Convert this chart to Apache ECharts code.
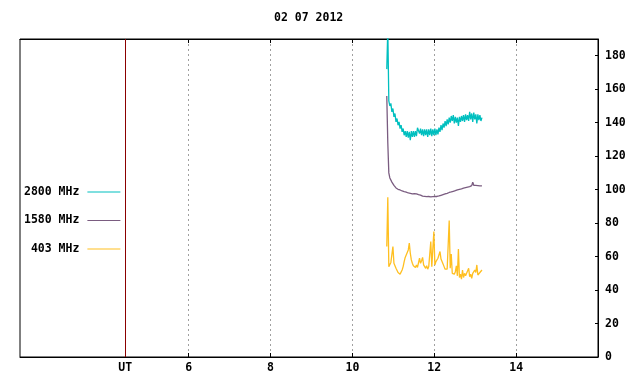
<!DOCTYPE html>
<html>
<head>
<meta charset="utf-8">
<script src="https://cdn.jsdelivr.net/npm/echarts@6/dist/echarts.min.js"></script>
<style>html,body{margin:0;padding:0;background:#fff}#c{width:640px;height:384px}</style>
</head>
<body>
<div id="c"></div>
<script>
const titleText = '02 07 2012';
const seriesNames = ['2800 MHz', '1580 MHz', '403 MHz'];
const xTickValues = [6, 8, 10, 12, 14];
const utPosition = 4.45;
const xLabelValues = [4.45, 6, 8, 10, 12, 14];
const yTickValues = [0, 20, 40, 60, 80, 100, 120, 140, 160, 180];
const startHour = 10.84;
const stepHour = 0.025;

const flux2800 = [172,196,153,150,151.5,146.5,148.5,143.5,145.5,140.5,
  142.5,138.5,140.5,136.5,138.5,134.5,136.5,132.5,135,131.5,
  135,131,134.5,129.5,135,131.5,135,131.5,135,132,
  137,138,133.5,136.5,132.5,136,132,136,132.5,136,
  131.5,136,132.5,136.5,132,136,132.5,136.5,132.5,136,
  133,137,134.5,138.5,135.5,139.5,137,141,138,142,
  139,143,140,144,141,144.5,139.5,143.5,140,143,
  138,143.5,140.5,144,141,144.5,140.5,145,141.5,144.5,
  141,146.5,142,145.5,140.5,146,142,145,139.5,145,
  141.5,144.5,141,143];
const flux1580 = [156,128,110,107,106,104.5,103.5,102.5,101.5,101,
  100.5,100.2,99.9,99.8,99.5,99.2,99,98.8,98.6,98.5,
  98.2,98,97.9,97.8,97.6,97.5,97.5,97.6,97.4,97.5,
  97.2,97,97,96.7,96.4,96.1,96.2,96,96.1,95.8,
  96,95.9,96,95.7,95.9,95.8,95.6,95.9,96,95.9,
  96.1,96.2,96.4,96.6,96.8,97,97.2,97.4,97.5,97.8,
  98.1,98.3,98.5,98.6,98.8,99,99.2,99.4,99.6,99.9,
  100.1,100.2,100.3,100.5,100.7,100.9,101,101.2,101.3,101.5,
  101.6,101.8,102,102.4,104.5,102.6,102.3,102.5,102.2,102.4,
  102.1,102.3,102.1,102.2];
const flux403 = [66,95.5,54,55,56.5,56,66,56,55.5,53,
  52,50.5,50,49.5,50.5,52,54,57,59.5,61,
  60,64,68,62,58,56,54.5,55,53.5,55,
  53.5,54.5,59,56,57.5,59.5,55,54,53,54.5,
  52.5,54,53,69,54,55,75,55,57,57.5,
  59,60,63,58.5,57,55.5,54,52.5,51.5,52.5,
  53.5,81.5,53,61.5,50,51,49.5,51,54.5,48.5,
  64.5,47.5,49.5,46.5,52,47.5,50,48.5,50,49,
  53,48,49.5,47,50,49,52,50.5,55,49,
  48.5,50.5,49.5,52];

const colors = ['#00bfbf', '#7a5c80', '#ffbf20'];
const font = { fontFamily: 'DejaVu Sans Mono', fontWeight: 'bold', fontSize: 11.5, color: '#000' };

function pairs(arr) { return arr.map((v, i) => [startHour + i * stepHour, v]); }

const chart = echarts.init(document.getElementById('c'), null, { renderer: 'canvas' });
chart.setOption({
  animation: false,
  backgroundColor: '#fff',
  title: { text: titleText, left: 274, top: 12, padding: 0, textStyle: Object.assign({}, font) },
  legend: {
    orient: 'vertical', left: 24, top: 185, padding: 0, align: 'right',
    itemWidth: 33, itemHeight: 1, itemGap: 14.5, icon: 'rect', selectedMode: false,
    data: seriesNames,
    formatter: n => n.padStart(8, ' '),
    textStyle: Object.assign({ lineHeight: 14, padding: [0, 3, 0, 0] }, font)
  },
  grid: { left: 20, right: 42, top: 39, bottom: 27, show: true, borderColor: '#000', borderWidth: 1, containLabel: false },
  xAxis: [{
    type: 'value', min: 1.88, max: 16, position: 'bottom',
    axisLine: { show: true, lineStyle: { color: '#000', width: 1 } },
    axisTick: { show: true, inside: true, length: 4, customValues: xTickValues, lineStyle: { color: '#000' } },
    axisLabel: { show: true, margin: 5, customValues: xLabelValues,
      formatter: v => (Math.abs(v - utPosition) < 1e-6 ? 'UT' : String(v)), ...font },
    splitLine: { show: true, lineStyle: { color: '#a0a0a0', type: [2, 3], width: 1 } }
  }, {
    type: 'value', min: 1.88, max: 16, position: 'top',
    axisLine: { show: true, lineStyle: { color: '#000', width: 1 } },
    axisTick: { show: true, inside: true, length: 4, customValues: xTickValues, lineStyle: { color: '#000' } },
    axisLabel: { show: false },
    splitLine: { show: false }
  }],
  yAxis: {
    type: 'value', min: 0, max: 190, position: 'right',
    axisLine: { show: true, lineStyle: { color: '#000', width: 1 } },
    axisTick: { show: true, inside: true, length: 3, customValues: yTickValues, lineStyle: { color: '#000' } },
    axisLabel: { show: true, margin: 7, customValues: yTickValues, ...font },
    splitLine: { show: false }
  },
  series: [
    { name: seriesNames[0], type: 'line', data: pairs(flux2800), showSymbol: false, symbol: 'none',
      lineStyle: { width: 1.3, color: colors[0] }, itemStyle: { color: colors[0] }, clip: true, z: 3,
      markLine: { silent: true, symbol: 'none', label: { show: false },
        lineStyle: { color: '#8b0000', type: 'solid', width: 1 }, data: [{ xAxis: utPosition }] } },
    { name: seriesNames[1], type: 'line', data: pairs(flux1580), showSymbol: false, symbol: 'none',
      lineStyle: { width: 1.3, color: colors[1] }, itemStyle: { color: colors[1] }, clip: true, z: 4 },
    { name: seriesNames[2], type: 'line', data: pairs(flux403), showSymbol: false, symbol: 'none',
      lineStyle: { width: 1.3, color: colors[2] }, itemStyle: { color: colors[2] }, clip: true, z: 5 }
  ]
});
</script>
</body>
</html>
